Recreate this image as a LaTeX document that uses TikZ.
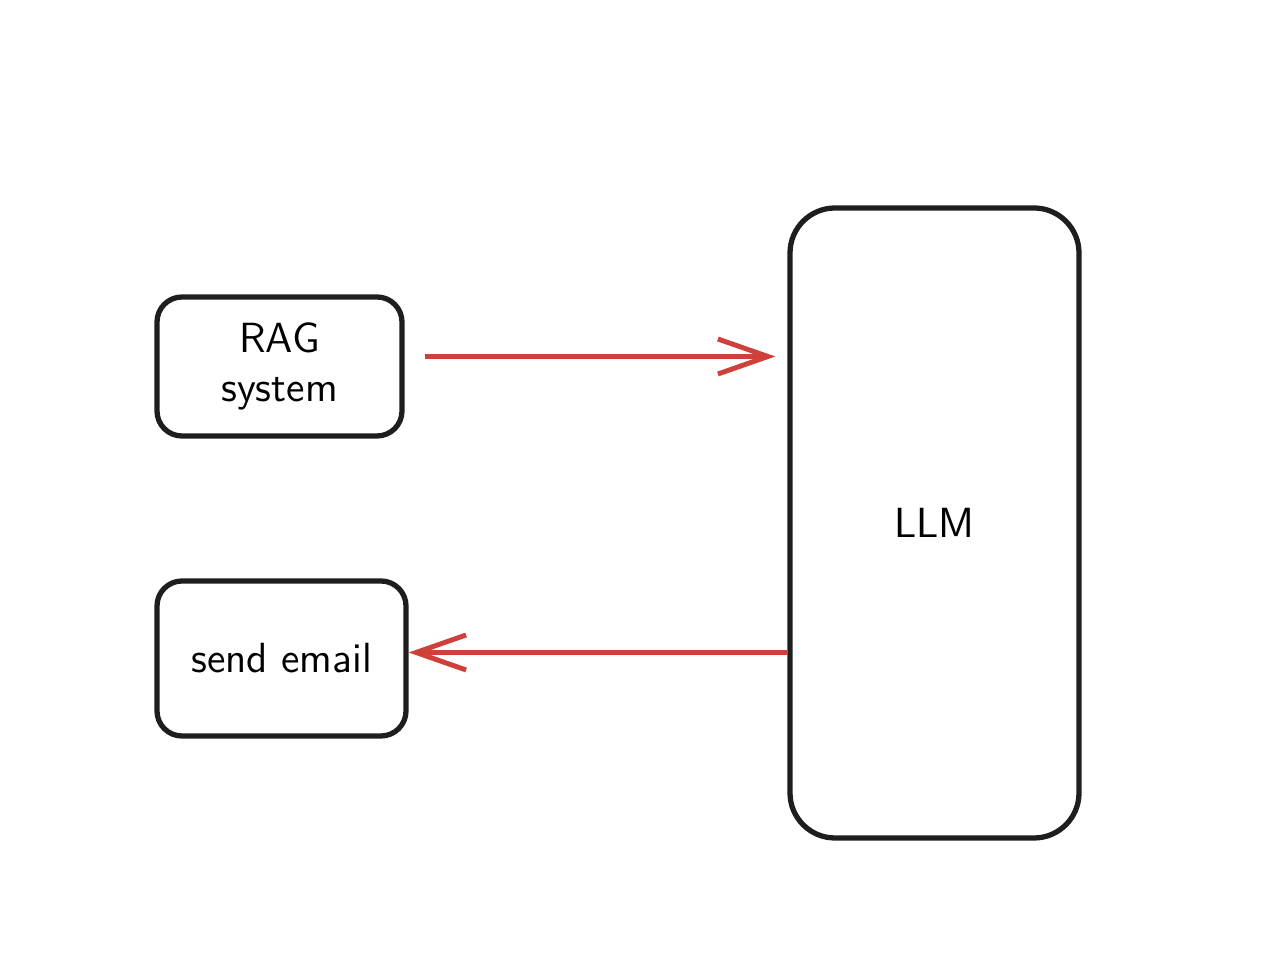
\documentclass[tikz,border=0pt]{standalone}
\usepackage{xcolor}
\usepackage{tikz}
\usetikzlibrary{arrows.meta}
\definecolor{strich}{RGB}{30,30,30}
\definecolor{pfeilrot}{RGB}{208,64,58}

\begin{document}
\begin{tikzpicture}[
  box/.style={draw=strich,line width=1.5pt,rounded corners=2.5mm,align=center,
    font=\sffamily\fontsize{12}{14}\selectfont},
  flow/.style={draw=pfeilrot,line width=1.4pt,-{Straight Barb[length=5mm,width=3.5mm]}}
]
\useasboundingbox (0,0) rectangle (12.76,9.62);					% Rahmen

\node[box,minimum width=2.45cm,minimum height=1.39cm] (rag) at (2.795,5.955) {RAG\\system};	% RAG
\node[box,minimum width=2.49cm,minimum height=1.55cm] (send) at (2.815,3.035) {send email};	% Mail
\node[box,rounded corners=4.5mm,minimum width=2.89cm,minimum height=6.30cm] (llm) at (9.345,4.39) {LLM};	% LLM

\draw[flow] ([xshift=2mm,yshift=1mm]rag.east) -- ([xshift=-1.2mm,yshift=1mm]rag.east -| llm.west);	% Anfrage
\draw[flow] ([yshift=0.6mm]send.east -| llm.west) -- ([yshift=0.6mm]send.east);				% Aufruf

\end{tikzpicture}
\end{document}
